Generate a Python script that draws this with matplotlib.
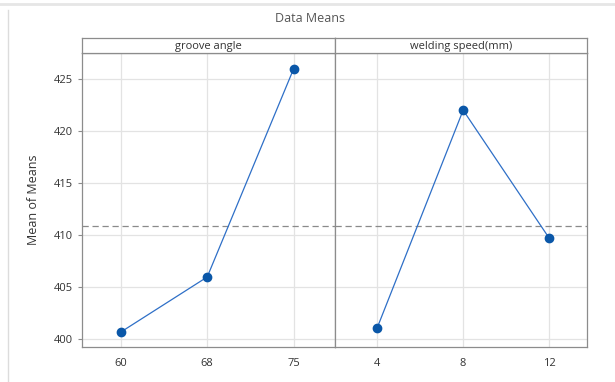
import matplotlib
matplotlib.use("Agg")
import matplotlib.pyplot as plt
from matplotlib.lines import Line2D

plt.rcParams['font.family'] = ['Open Sans', 'DejaVu Sans']

factors = ["groove angle", "welding speed(mm)"]
levels_groove = ["60", "68", "75"]
means_groove = [400.67, 405.96, 425.96]
levels_speed = ["4", "8", "12"]
means_speed = [401.06, 422.0, 409.7]
grand_mean = 410.87
yticks = [400, 405, 410, 415, 420, 425]

W, H = 615, 382
fig = plt.figure(figsize=(W/100, H/100), dpi=100)

def fx(px): return px / W
def fy(py): return 1 - py / H

left, right, mid = 82, 587, 335
top_axes, bottom_axes = 53, 347
strip_top = 38

ax1 = fig.add_axes([fx(left), fy(bottom_axes), fx(mid) - fx(left), fy(top_axes) - fy(bottom_axes)])
ax2 = fig.add_axes([fx(mid), fy(bottom_axes), fx(right) - fx(mid), fy(top_axes) - fy(bottom_axes)], sharey=ax1)

line_c = '#2e6fc7'
mark_c = '#0a57a8'
spine_c = '#8c8c8c'
grid_c = '#e3e3e3'

for ax, levels, vals in [(ax1, levels_groove, means_groove), (ax2, levels_speed, means_speed)]:
    x = list(range(len(levels)))
    ax.plot(x, vals, color=line_c, lw=0.9, marker='o', ms=6, mfc=mark_c, mec=mark_c, zorder=3)
    ax.axhline(grand_mean, color='#8a8a8a', lw=0.9, ls=(0, (5, 3)), zorder=2)
    ax.set_xticks(x)
    ax.set_xticklabels(levels)
    ax.set_xlim(-0.45, 2.48)
    ax.grid(True, color=grid_c, lw=0.9)
    ax.set_axisbelow(True)
    for s in ax.spines.values():
        s.set_color(spine_c)
        s.set_linewidth(0.9)
    ax.tick_params(axis='x', colors=spine_c, labelcolor='#333333', labelsize=8, length=0, pad=8)
    ax.tick_params(axis='y', colors=spine_c, labelcolor='#333333', labelsize=8, length=3, width=0.8)

ax2.set_xlim(-0.49, 2.44)
ax1.set_ylim(399.23, 427.5)
ax1.set_yticks(yticks)
ax2.tick_params(axis='y', left=False, labelleft=False)
ax1.set_ylabel("Mean of Means", fontsize=9, color='#333333', labelpad=10)

# strips
for (l, r), name in zip([(left, mid), (mid, right)], factors):
    sax = fig.add_axes([fx(l), fy(top_axes), fx(r) - fx(l), fy(strip_top) - fy(top_axes)])
    sax.set_xticks([]); sax.set_yticks([])
    for s in sax.spines.values():
        s.set_color(spine_c)
        s.set_linewidth(0.9)
    sax.text(0.5, 0.45, name, ha='center', va='center', fontsize=8, color='#333333', transform=sax.transAxes)

fig.text(fx(310), fy(18), "Data Means", ha='center', va='center', fontsize=9, color='#555555')

# outer frame lines
fig.add_artist(Line2D([0, 1], [fy(4), fy(4)], color='#e6e6e6', lw=2, transform=fig.transFigure))
fig.add_artist(Line2D([fx(8), fx(8)], [fy(10), 0], color='#dcdcdc', lw=1, transform=fig.transFigure))

fig.savefig("out.png", dpi=100)
